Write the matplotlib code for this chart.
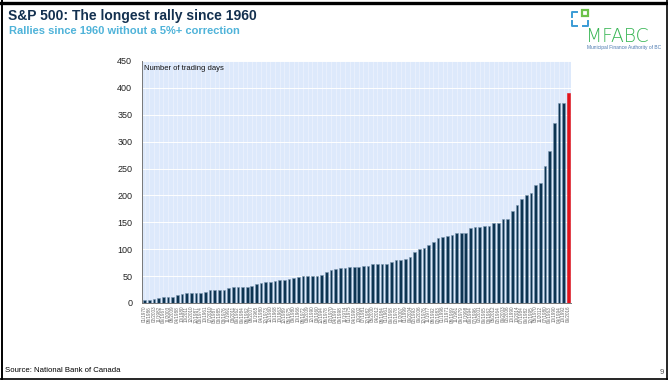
import numpy as np
import matplotlib
matplotlib.use("Agg")
import matplotlib.pyplot as plt
from matplotlib.lines import Line2D
from matplotlib.patches import Rectangle

# Rally lengths (trading days), sorted, last one is the current rally
rally_days = [5, 6, 7, 9, 11, 11, 12, 15, 17, 18,
              18, 19, 19, 21, 24, 24, 24, 25, 27, 29,
              30, 30, 30, 32, 35, 37, 39, 39, 41, 42,
              42, 45, 47, 48, 50, 50, 51, 51, 52, 57,
              61, 63, 65, 65, 67, 67, 67, 68, 69, 72,
              72, 72, 73, 77, 80, 80, 82, 86, 94, 100,
              102, 108, 114, 121, 122, 125, 126, 130, 130, 130,
              139, 141, 141, 143, 144, 148, 149, 156, 156, 171,
              182, 193, 200, 205, 219, 224, 255, 283, 334, 371,
              371, 391]

rally_start = ["01/1970", "08/1986", "02/2003", "11/1982", "06/1967", "11/2003", "08/2009", "04/1988", "10/1980", "10/2011",
               "12/2010", "12/1987", "03/1974", "10/1961", "07/2010", "05/1987", "03/1985", "03/1976", "11/1991", "03/2011",
               "06/1962", "06/1984", "08/1962", "08/2007", "11/1965", "04/1980", "12/1973", "12/1960", "10/1968", "10/1963",
               "12/1989", "05/1975", "09/1980", "10/1966", "08/1972", "03/2009", "12/1990", "03/1960", "12/1994", "08/1978",
               "02/1970", "04/1997", "09/1998", "11/1974", "01/1975", "04/1999", "10/2002", "07/1981", "12/1982", "05/2000",
               "04/2012", "08/1984", "01/1961", "06/1968", "02/1978", "11/2007", "01/1999", "06/2004", "02/1993", "06/2006",
               "12/1976", "11/1977", "08/1992", "02/1983", "01/1996", "10/1971", "08/1969", "11/1961", "09/1979", "11/1998",
               "06/1994", "07/1996", "02/2001", "06/1965", "03/1962", "05/2012", "02/1964", "06/2003", "02/2006", "10/1990",
               "10/2014", "07/1984", "06/1982", "12/1995", "05/1970", "11/2012", "07/1980", "06/1963", "10/1990", "04/1994",
               "10/1992", "06/2016"]

W, H = 668, 380
plt.rcParams["font.family"] = ["Liberation Sans", "DejaVu Sans"]

fig = plt.figure(figsize=(W / 100, H / 100), dpi=100)


def px(x, y):
    return x / W, 1 - y / H


# slide frame
fig.add_artist(Line2D([0, 1], [1 - 3 / H] * 2, color="black", lw=2.4))
fig.add_artist(Line2D([1.5 / W] * 2, [0, 1], color="black", lw=1.4))
fig.add_artist(Line2D([0, 1], [1 - 378.5 / H] * 2, color="black", lw=1.2))
fig.add_artist(Line2D([666.5 / W] * 2, [0, 1], color="black", lw=1.2))

# headings
fig.text(*px(8, 16), "S&P 500: The longest rally since 1960", fontsize=10,
         fontweight="bold", color="#13304f", va="center")
fig.text(*px(9, 31), "Rallies since 1960 without a 5%+ correction", fontsize=8,
         fontweight="bold", color="#4fb3d9", va="center")
fig.text(*px(5, 371), "Source: National Bank of Canada", fontsize=5.6,
         color="black", va="center")
fig.text(*px(662, 372), "9", fontsize=5.6, color="#555555", va="center", ha="center")

# logo
fig.add_artist(Rectangle(px(582, 16), 5.5 / W, 6 / H, facecolor="none",
                         edgecolor="#6cc24a", lw=1.6))
for xs, ys in [([572, 572, 576.5], [17, 11.5, 11.5]),
               ([572, 572, 576.5], [21, 26, 26]),
               ([583, 587.5, 587.5], [26, 26, 21])]:
    fig.add_artist(Line2D([x / W for x in xs], [1 - y / H for y in ys],
                          color="#3a9bd5", lw=1.4))
fig.text(*px(586, 36), "MFABC", fontsize=13.5, color="#35b552", va="center",
         family=["DejaVu Sans"], fontweight="light")
fig.text(*px(587, 48), "Municipal Finance Authority of BC", fontsize=3.5,
         color="#4a78b0", va="center")

# chart
ax = fig.add_axes([142 / W, 1 - 303 / H, (571 - 142) / W, (303 - 61) / H])
ax.set_facecolor("#dde9fb")
x = np.arange(len(rally_days))
colors = ["#0d3452"] * (len(rally_days) - 1) + ["#e3141c"]
edges = ["#7d98b0"] * (len(rally_days) - 1) + ["#e3141c"]
ax.bar(x, rally_days, width=0.58, color=colors, edgecolor=edges, linewidth=0.4,
       zorder=3)

ax.set_xlim(-0.6, len(rally_days) - 0.4)
ax.set_ylim(0, 450)
ax.set_yticks(range(0, 451, 50))
ax.set_xticks(x)
ax.set_xticklabels(rally_start, rotation=90, fontsize=3.3, color="#666666")
ax.tick_params(axis="x", length=0, pad=2)
ax.tick_params(axis="y", length=0, labelsize=6.5, pad=7, labelcolor="#222222")

ax.grid(True, axis="y", color="white", lw=0.7, zorder=0)
ax.grid(True, axis="x", color="#edf3fd", lw=0.5, zorder=0)
ax.set_axisbelow(True)
for side in ["top", "right"]:
    ax.spines[side].set_visible(False)
ax.spines["left"].set_color("#777777")
ax.spines["left"].set_linewidth(0.7)
ax.spines["bottom"].set_color("#777777")
ax.spines["bottom"].set_linewidth(0.7)

ax.text(0.004, 0.985, "Number of trading days", transform=ax.transAxes,
        fontsize=5.5, va="top", ha="left", color="#111111")

plt.savefig("out.png", dpi=100)
